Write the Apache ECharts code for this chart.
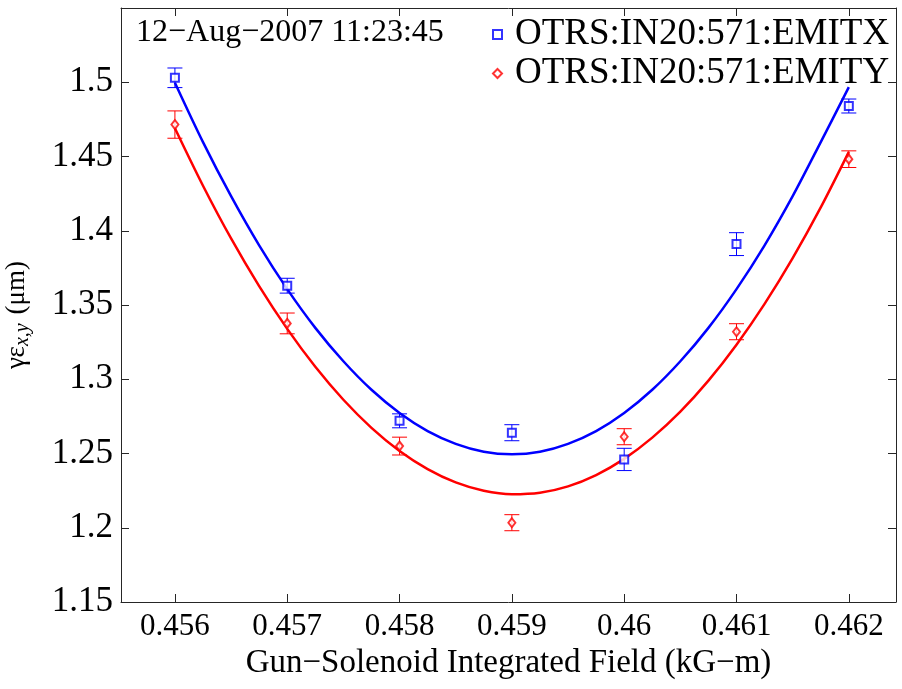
<!DOCTYPE html>
<html><head><meta charset="utf-8">
<script src="https://cdn.jsdelivr.net/npm/echarts@6/dist/echarts.min.js"></script>
<style>html,body{margin:0;padding:0;background:#fff}#c{width:902px;height:689px}</style>
</head><body><div id="c"></div><script>
const xValues=[0.456,0.457,0.458,0.459,0.460,0.461,0.462];
const emitX=[1.503,1.363,1.272,1.264,1.246,1.391,1.484];
const emitXErr=[0.0066,0.005,0.0047,0.0054,0.0075,0.0077,0.0047];
const emitY=[1.4715,1.3376,1.255,1.2034,1.2613,1.332,1.4482];
const emitYErr=[0.0092,0.007,0.006,0.0054,0.0054,0.0054,0.0056];
const fitX=[0.456,0.45625,0.4565,0.45675,0.457,0.45725,0.4575,0.45775,0.458,0.45825,0.4585,0.45875,0.459,
            0.45925,0.4595,0.45975,0.46,0.46025,0.4605,0.46075,0.461,0.46125,0.4615,0.46175,0.462];
const fitEmitX=[1.4997,1.4597,1.4233,1.3902,1.3607,1.3346,1.3121,1.2929,1.2773,1.2651,1.2565,1.2512,1.2495,
                1.2512,1.2565,1.2651,1.2773,1.2929,1.3121,1.3346,1.3607,1.3902,1.4233,1.4597,1.4967];
const fitEmitY=[1.4690,1.4303,1.3948,1.3627,1.3339,1.3084,1.2862,1.2673,1.2517,1.2395,1.2305,1.2249,1.2226,
                1.2236,1.2279,1.2355,1.2464,1.2607,1.2782,1.2991,1.3233,1.3508,1.3816,1.4157,1.4531];
const xTicks=[0.456,0.457,0.458,0.459,0.46,0.461,0.462];
const yTicks=[1.15,1.2,1.25,1.3,1.35,1.4,1.45,1.5];
const seriesNames=['OTRS:IN20:571:EMITX','OTRS:IN20:571:EMITY'];
const stamp='12\u2212Aug\u22122007 11:23:45';
const xName='Gun\u2212Solenoid Integrated Field (kG\u2212m)';

const FONT='Liberation Serif';
const BLUE='#0000ff', RED='#ff0000', AX='#262626';
const chart=echarts.init(document.getElementById('c'),null,{renderer:'canvas'});

function errData(v,e){return xValues.map((x,i)=>[x,v[i]-e[i],v[i]+e[i]]);}
function errRender(color){
  return function(params,api){
    const x=api.value(0);
    const a=api.coord([x,api.value(1)]), b=api.coord([x,api.value(2)]);
    const w=7.5, st={stroke:color,lineWidth:1};
    return {type:'group',children:[
      {type:'line',shape:{x1:a[0],y1:a[1],x2:b[0],y2:b[1]},style:st},
      {type:'line',shape:{x1:a[0]-w,y1:a[1],x2:a[0]+w,y2:a[1]},style:st},
      {type:'line',shape:{x1:b[0]-w,y1:b[1],x2:b[0]+w,y2:b[1]},style:st}
    ]};
  };
}
const xMin=0.45552, xMax=0.46242, yMin=1.15, yMax=1.55;
const commonAxisLine={show:true,lineStyle:{color:AX,width:1}};
chart.setOption({
  animation:false,
  backgroundColor:'#fff',
  textStyle:{fontFamily:FONT},
  grid:{left:121,right:6,top:8,bottom:87,containLabel:false,outerBoundsMode:'none'},
  title:{text:stamp,left:131,top:12,textStyle:{fontFamily:FONT,fontSize:32,fontWeight:'normal',color:'#000'}},
  legend:{data:seriesNames,orient:'vertical',left:487,top:11,itemWidth:9,itemHeight:9,itemGap:2,
    textStyle:{fontFamily:FONT,fontSize:37,color:'#000',lineHeight:37,padding:[0,0,0,8]}},
  xAxis:[{type:'value',min:xMin,max:xMax,position:'bottom',
      name:xName,nameLocation:'middle',nameGap:45,nameTextStyle:{fontFamily:FONT,fontSize:33,color:'#000'},
      axisLine:commonAxisLine,splitLine:{show:false},
      axisTick:{inside:true,length:8,customValues:xTicks,lineStyle:{color:AX}},
      axisLabel:{customValues:xTicks,margin:9,fontFamily:FONT,fontSize:31,color:'#000'}},
    {type:'value',min:xMin,max:xMax,position:'top',
      axisLine:commonAxisLine,splitLine:{show:false},
      axisTick:{inside:true,length:8,customValues:xTicks,lineStyle:{color:AX}},
      axisLabel:{show:false}}],
  yAxis:[{type:'value',min:yMin,max:yMax,position:'left',
      name:'{a|\u03b3\u03b5}{s|x,y}{a| (\u03bcm)}',nameLocation:'middle',nameGap:88,nameRotate:90,
      nameTextStyle:{padding:[0,20,0,0],rich:{a:{fontFamily:FONT,fontSize:27,color:'#000'},
        s:{fontFamily:FONT,fontSize:20,fontStyle:'italic',color:'#000',padding:[13,2,0,0]}}},
      axisLine:commonAxisLine,splitLine:{show:false},
      axisTick:{inside:true,length:8,customValues:yTicks,lineStyle:{color:AX}},
      axisLabel:{customValues:yTicks,margin:8,fontFamily:FONT,fontSize:35,color:'#000'}},
    {type:'value',min:yMin,max:yMax,position:'right',
      axisLine:commonAxisLine,splitLine:{show:false},
      axisTick:{inside:true,length:8,customValues:yTicks,lineStyle:{color:AX}},
      axisLabel:{show:false}}],
  series:[
    {name:'fitX',type:'line',smooth:0.3,symbol:'none',data:fitX.map((x,i)=>[x,fitEmitX[i]]),
      lineStyle:{color:BLUE,width:2.5},z:3},
    {name:'fitY',type:'line',smooth:0.3,symbol:'none',data:fitX.map((x,i)=>[x,fitEmitY[i]]),
      lineStyle:{color:RED,width:2.5},z:3},
    {name:'errX',type:'custom',renderItem:errRender(BLUE),data:errData(emitX,emitXErr),encode:{x:0,y:[1,2]},z:2},
    {name:'errY',type:'custom',renderItem:errRender(RED),data:errData(emitY,emitYErr),encode:{x:0,y:[1,2]},z:2},
    {name:seriesNames[0],type:'scatter',symbol:'emptyRect',symbolSize:8,
      itemStyle:{color:BLUE,borderColor:BLUE,borderWidth:1},data:xValues.map((x,i)=>[x,emitX[i]]),z:4},
    {name:seriesNames[1],type:'scatter',symbol:'emptyDiamond',symbolSize:[7,9],
      itemStyle:{color:RED,borderColor:RED,borderWidth:1},data:xValues.map((x,i)=>[x,emitY[i]]),z:4}
  ]
});
</script></body></html>
